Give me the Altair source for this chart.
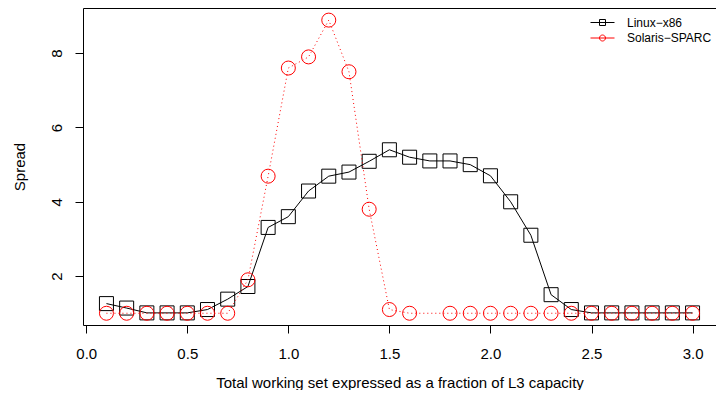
import altair as alt
import pandas as pd

# ---- data ----
x_vals = [0.1, 0.2, 0.3, 0.4, 0.5, 0.6, 0.7, 0.8, 0.9, 1.0,
          1.1, 1.2, 1.3, 1.4, 1.5, 1.6, 1.7, 1.8, 1.9, 2.0,
          2.1, 2.2, 2.3, 2.4, 2.5, 2.6, 2.7, 2.8, 2.9, 3.0]
linux_vals = [1.26, 1.14, 1.01, 1.01, 1.01, 1.10, 1.38, 1.72, 3.31, 3.60,
              4.29, 4.69, 4.80, 5.09, 5.40, 5.20, 5.10, 5.10, 5.00, 4.70,
              4.00, 3.10, 1.50, 1.10, 1.01, 1.01, 1.01, 1.01, 1.01, 1.01]
solaris_vals = [1.0, 1.0, 1.0, 1.0, 1.0, 1.0, 1.0, 1.9, 4.69, 7.6,
                7.9, 8.89, 7.5, 3.8, 1.1, 1.0, None, 1.0, 1.0, 1.0,
                1.0, 1.0, 1.0, 1.0, 1.0, 1.0, 1.0, 1.0, 1.0, 1.0]
series_names = ["Linux\u2212x86", "Solaris\u2212SPARC"]
series_colors = ["black", "red"]
x_ticks = [0.0, 0.5, 1.0, 1.5, 2.0, 2.5, 3.0]
y_ticks = [2, 4, 6, 8]

rows = []
for x, v in zip(x_vals, linux_vals):
    rows.append({"x": x, "y": v, "series": series_names[0]})
for x, v in zip(x_vals, solaris_vals):
    if v is not None:
        rows.append({"x": x, "y": v, "series": series_names[1]})
df = pd.DataFrame(rows)

FONT = "Liberation Sans"

xs = alt.Scale(domain=[-0.016, 3.116], nice=False, zero=False)
ys = alt.Scale(domain=[0.684, 9.216], nice=False, zero=False)

xenc = alt.X(
    "x:Q", scale=xs,
    axis=alt.Axis(values=x_ticks, format=".1f",
                  title="Total working set expressed as a fraction of L3 capacity",
                  labelBaseline="alphabetic", labelPadding=25.5,
                  titleY=62, titleBaseline="alphabetic"),
)
yenc = alt.Y(
    "y:Q", scale=ys,
    axis=alt.Axis(values=y_ticks, format="d", title="Spread",
                  labelAngle=270, labelAlign="center", labelBaseline="alphabetic",
                  labelPadding=14,
                  titleAngle=270, titleX=-59, titleY=158.5,
                  titleAlign="center", titleBaseline="alphabetic"),
)

base = alt.Chart(df)

lin = base.transform_filter(alt.datum.series == series_names[0])
sol = base.transform_filter(alt.datum.series == series_names[1])

lin_line = lin.mark_line(color="black", strokeWidth=1).encode(x=xenc, y=yenc)
lin_pts = lin.mark_point(shape="square", size=196, filled=False, color="black",
                         strokeWidth=1, opacity=1).encode(x=xenc, y=yenc)
sol_line = sol.mark_line(color="red", strokeWidth=1, strokeDash=[1, 3]).encode(x=xenc, y=yenc)
sol_pts = sol.mark_point(shape="circle", size=196, filled=False, color="red",
                         strokeWidth=1, opacity=1).encode(x=xenc, y=yenc)

# legend symbols: a line with the marker drawn on it (like R's legend)
sq_path = "M-2,0H2M-0.5,-0.5H0.5V0.5H-0.5Z"
ci_path = "M-2,0H2M0.5,0A0.5,0.5,0,1,1,-0.5,0A0.5,0.5,0,1,1,0.5,0Z"

leg_kw = dict(title=None, orient="none", legendX=513, legendY=8)
legend_layer = base.transform_filter("false").mark_point(
    filled=False, opacity=1, strokeWidth=1, size=144
).encode(
    x=xenc, y=yenc,
    color=alt.Color("series:N", scale=alt.Scale(domain=series_names, range=series_colors),
                    legend=alt.Legend(**leg_kw)),
    shape=alt.Shape("series:N", scale=alt.Scale(domain=series_names, range=[sq_path, ci_path]),
                    legend=alt.Legend(**leg_kw)),
)

chart = alt.layer(lin_line, lin_pts, sol_line, sol_pts, legend_layer).properties(
    width=633, height=317,
    padding={"left": 75, "top": 0, "right": 0, "bottom": 65},
    autosize="none",
    background="white",
).configure_view(
    stroke="black", strokeWidth=1
).configure_axis(
    domain=False, grid=False,
    tickColor="black", tickSize=8, tickWidth=1,
    labelColor="black", labelFont=FONT, labelFontSize=15,
    titleColor="black", titleFont=FONT, titleFontSize=15, titleFontWeight="normal",
).configure_legend(
    labelFont=FONT, labelFontSize=12, labelColor="black",
    symbolSize=144, symbolStrokeWidth=1, labelOffset=18,
    rowPadding=2.5, padding=0,
)

chart.save("out.html", embed_options={"renderer": "svg", "actions": False})
